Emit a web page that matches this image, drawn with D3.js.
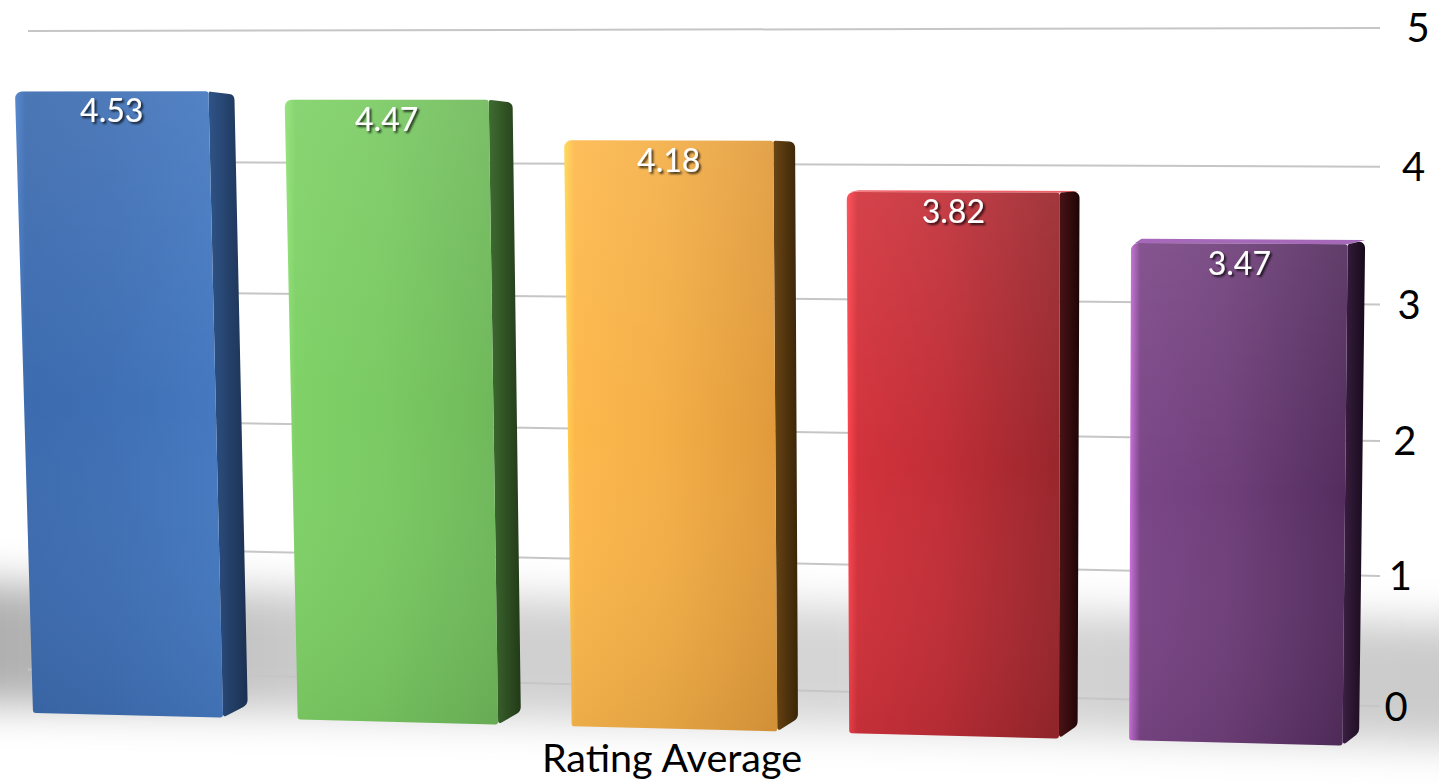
<!DOCTYPE html>
<html>
<head>
<meta charset="utf-8">
<script src="https://cdnjs.cloudflare.com/ajax/libs/d3/7.8.5/d3.min.js"></script>
<style>
  body { margin: 0; background: #fff; }
  svg { display: block; }
</style>
</head>
<body>
<script>
// chart data
var categories = ["Item 1", "Item 2", "Item 3", "Item 4", "Item 5"];
var values = [4.53, 4.47, 4.18, 3.82, 3.47];
var tickValues = [0, 1, 2, 3, 4, 5];
var seriesName = "Rating Average";

// palette: [left edge, front left, front right, side light, side dark, top]
var palette = [
  ["#4a7fca", "#3c6baf", "#4579c1", "#2f5488", "#1b3050", "#5a8ad0"],
  ["#8fe274", "#7fd167", "#6fb85a", "#3f6c31", "#223a18", "#98e080"],
  ["#ffd650", "#fdb84c", "#e09a3b", "#6a4514", "#3a2507", "#ffd070"],
  ["#ff4650", "#d2323b", "#98262c", "#4a1215", "#1e0506", "#f06068"],
  ["#cf72e0", "#7b4687", "#532d5d", "#3a1f42", "#170a1b", "#a668b8"]
];

var W = 1439, H = 784;
var font = "'Gill Sans', 'Gill Sans MT', Lato, sans-serif";

var svg = d3.select("body").append("svg")
  .attr("width", W)
  .attr("height", H);

var defs = svg.append("defs");

// horizontal layout of the bars (band in 0..1, then widened to the right)
var x = d3.scaleBand()
  .domain(categories)
  .range([0, 1])
  .paddingInner(0.18)
  .paddingOuter(0);
var xs = d3.scalePow().exponent(1.025).domain([0, 1]).range([33, 1360]);

// front plane of the bars: floor line and unit height vary with x (perspective)
var base = d3.scaleLinear().domain([0, W]).range([712, 748]);
var unit = d3.scaleLinear().domain([0, W]).range([137, 145]);
var sideW = d3.scaleLinear().domain([0, W]).range([27, 16]);
var xc = 1000, conv = 3e-5;

function frontY(u) {
  return d3.scaleLinear().domain([0, 5]).range([base(u), base(u) - 5 * unit(u)]);
}
function project(u, v) {
  var y = frontY(u)(v);
  return [xc + (u - xc) * (1 + conv * (base(u) - y)), y];
}

// back wall with the grid
var wall0 = d3.scaleLinear().domain([265, 1370]).range([676, 706]);
var wall5 = d3.scaleLinear().domain([265, 1370]).range([30.5, 28]);
function wallY(u) {
  return d3.scalePow().exponent(1.025).domain([0, 5]).range([wall0(u), wall5(u)]);
}

// floor shadow
var shGrad = defs.append("linearGradient").attr("id", "shgrad")
  .attr("x1", 0).attr("x2", 1).attr("y1", 0).attr("y2", 0);
[[0, 0.33], [0.25, 0.2], [0.6, 0.16], [1, 0.21]].forEach(function(s) {
  shGrad.append("stop").attr("offset", s[0]).attr("stop-color", "#000").attr("stop-opacity", s[1]);
});
defs.append("filter").attr("id", "blur")
  .attr("x", "-20%").attr("y", "-100%").attr("width", "140%").attr("height", "300%")
  .append("feGaussianBlur").attr("stdDeviation", 20);

var shadowPts = [];
[-60, W + 60].forEach(function(u) { shadowPts.push([u, wallY(u)(0) - 85]); });
[W + 60, -60].forEach(function(u) { shadowPts.push([u, wallY(u)(0) + 35]); });
svg.append("path")
  .attr("d", d3.line()(shadowPts) + "Z")
  .attr("fill", "url(#shgrad)")
  .attr("filter", "url(#blur)");

// gridlines
var gridL = 28, gridR = 1380;
svg.append("g").selectAll("line")
  .data(tickValues)
  .enter().append("line")
    .attr("x1", gridL)
    .attr("y1", function(d) { return wallY(gridL)(d); })
    .attr("x2", gridR)
    .attr("y2", function(d) { return wallY(gridR)(d); })
    .attr("stroke", "#c6c6c6")
    .attr("stroke-width", 2);

// right axis labels
var labelX = d3.scaleLinear().domain([0, 5]).range([1396, 1418]);
svg.append("g").selectAll("text")
  .data(tickValues)
  .enter().append("text")
    .attr("x", function(d) { return labelX(d); })
    .attr("y", function(d) { return wallY(gridR)(d); })
    .attr("dy", "0.36em")
    .attr("text-anchor", "middle")
    .attr("font-family", font)
    .attr("font-size", 40)
    .attr("fill", "#000")
    .text(function(d) { return d; });

// gradients for the bars
palette.forEach(function(c, i) {
  var g = defs.append("linearGradient").attr("id", "front" + i)
    .attr("x1", 0).attr("x2", 1).attr("y1", 0).attr("y2", 0);
  g.append("stop").attr("offset", 0).attr("stop-color", c[0]);
  g.append("stop").attr("offset", 0.05).attr("stop-color", c[1]);
  g.append("stop").attr("offset", 0.45).attr("stop-color", d3.interpolateRgb(c[1], c[2])(0.3));
  g.append("stop").attr("offset", 1).attr("stop-color", c[2]);
  var s = defs.append("linearGradient").attr("id", "side" + i)
    .attr("x1", 0).attr("x2", 1).attr("y1", 0).attr("y2", 0);
  s.append("stop").attr("offset", 0).attr("stop-color", c[3]);
  s.append("stop").attr("offset", 1).attr("stop-color", c[4]);
});
var vGrad = defs.append("linearGradient").attr("id", "vshade")
  .attr("x1", 0).attr("x2", 0).attr("y1", 0).attr("y2", 1);
vGrad.append("stop").attr("offset", 0).attr("stop-color", "#fff").attr("stop-opacity", 0.08);
vGrad.append("stop").attr("offset", 0.5).attr("stop-color", "#fff").attr("stop-opacity", 0);
vGrad.append("stop").attr("offset", 1).attr("stop-color", "#000").attr("stop-opacity", 0.07);

var txtShadow = defs.append("filter").attr("id", "txtshadow")
  .attr("x", "-20%").attr("y", "-20%").attr("width", "150%").attr("height", "150%");
txtShadow.append("feDropShadow")
  .attr("dx", 2).attr("dy", 2).attr("stdDeviation", 1.2)
  .attr("flood-color", "#000").attr("flood-opacity", 0.75);

function rounded(pts, radii) {
  var p = d3.path(), n = pts.length;
  p.moveTo((pts[n - 1][0] + pts[0][0]) / 2, (pts[n - 1][1] + pts[0][1]) / 2);
  for (var i = 0; i < n; i++) {
    var a = pts[i], b = pts[(i + 1) % n];
    p.arcTo(a[0], a[1], b[0], b[1], radii[i]);
  }
  p.closePath();
  return p.toString();
}

// bars
var bars = svg.append("g").selectAll("g")
  .data(values)
  .enter().append("g");

bars.each(function(d, i) {
  var g = d3.select(this);
  var uL = xs(x(categories[i]));
  var uR = xs(x(categories[i]) + x.bandwidth());
  var sw = sideW((uL + uR) / 2);
  var u0 = uL, u1 = uR - sw;
  var tl = project(u0, d), tr = project(u1, d), br = project(u1, 0), bl = project(u0, 0);
  var topDy = (160 - tr[1]) * 0.05;
  var trb = [tr[0] + sw, tr[1] + topDy];
  var brb = [br[0] + sw * 0.95, br[1] - 13];

  // top face (only visible below the horizon)
  if (topDy < 0) {
    g.append("path")
      .attr("d", d3.line()([[tl[0] + 4, tl[1]], [tl[0] + sw * 0.6, tl[1] + topDy], trb, tr]) + "Z")
      .attr("fill", palette[i][5]);
  }
  // side face
  g.append("path")
    .attr("d", rounded([tr, trb, brb, br], [2, 6, 8, 2]))
    .attr("fill", "url(#side" + i + ")");
  // front face
  var front = rounded([tl, tr, br, bl], [7, 3, 3, 3]);
  g.append("path").attr("d", front).attr("fill", "url(#front" + i + ")");
  g.append("path").attr("d", front).attr("fill", "url(#vshade)");

  // value label
  g.append("text")
    .attr("x", (tl[0] + tr[0]) / 2)
    .attr("y", (tl[1] + tr[1]) / 2 + 31)
    .attr("text-anchor", "middle")
    .attr("font-family", font)
    .attr("font-size", 32)
    .attr("fill", "#fff")
    .attr("filter", "url(#txtshadow)")
    .text(d3.format(".2f")(d));
});

// series title
svg.append("text")
  .attr("x", 672)
  .attr("y", 772)
  .attr("text-anchor", "middle")
  .attr("font-family", font)
  .attr("font-size", 39.5)
  .attr("fill", "#000")
  .text(seriesName);
</script>
</body>
</html>
